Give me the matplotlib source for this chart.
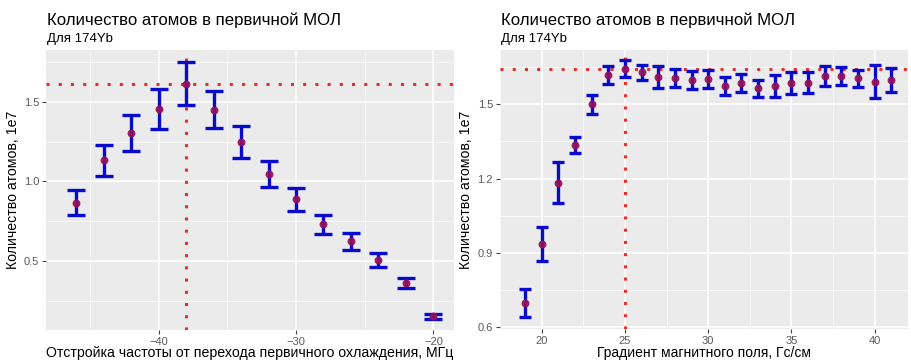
import matplotlib
matplotlib.use("Agg")
import matplotlib.pyplot as plt
from matplotlib.ticker import MultipleLocator

plt.rcParams["font.family"] = ["Liberation Sans", "DejaVu Sans"]

# left panel: detuning scan
detuning = [-46, -44, -42, -40, -38, -36, -34, -32, -30, -28, -26, -24, -22, -20]
atoms_det = [0.866, 1.134, 1.306, 1.457, 1.616, 1.451, 1.247, 1.048, 0.887, 0.730,
             0.623, 0.507, 0.363, 0.151]
err_det = [0.078, 0.097, 0.115, 0.127, 0.133, 0.115, 0.099, 0.083, 0.074, 0.058,
           0.052, 0.043, 0.030, 0.014]
best_det = -38
best_det_level = 1.616

# right panel: magnetic field gradient scan
gradient = list(range(19, 42))
atoms_grad = [0.698, 0.936, 1.184, 1.336, 1.500, 1.618, 1.644, 1.629, 1.611, 1.605,
              1.598, 1.602, 1.574, 1.585, 1.564, 1.575, 1.587, 1.587, 1.614, 1.614,
              1.605, 1.591, 1.598]
err_grad = [0.058, 0.070, 0.082, 0.032, 0.038, 0.036, 0.034, 0.030, 0.044, 0.037,
            0.037, 0.035, 0.037, 0.037, 0.035, 0.045, 0.045, 0.042, 0.042, 0.037,
            0.035, 0.066, 0.050]
best_grad = 25
best_grad_level = 1.641

title = "Количество атомов в первичной МОЛ"
subtitle = "Для 174Yb"
ylabel = "Количество атомов, 1e7"

fig = plt.figure(figsize=(9.11, 3.61), dpi=100)
ax1 = fig.add_axes([46 / 911, 31 / 361, 408 / 911, 280 / 361])
ax2 = fig.add_axes([500 / 911, 32 / 361, 408 / 911, 279 / 361])


def style_axes(ax):
    ax.set_facecolor("#EBEBEB")
    for s in ax.spines.values():
        s.set_visible(False)
    ax.grid(True, which="major", color="white", linewidth=1.1)
    ax.grid(True, which="minor", color="white", linewidth=0.5)
    ax.set_axisbelow(True)
    ax.tick_params(which="major", length=3, width=0.8, color="#444444",
                   labelsize=8, labelcolor="#5A5A5A", pad=2)
    ax.tick_params(which="minor", length=0)


def draw(ax, x, y, e, vx, hy, capsize):
    ax.axhline(hy, color="#E03030", linestyle=(0, (1, 3)), linewidth=2.2, zorder=2)
    ax.axvline(vx, color="#E03030", linestyle=(0, (1, 3)), linewidth=2.2, zorder=2)
    ax.errorbar(x, y, yerr=e, fmt="none", ecolor="#0A0ACD", elinewidth=2.4,
                capsize=capsize, capthick=2.4, zorder=3)
    ax.scatter(x, y, s=22, color="#95105A", zorder=4, alpha=0.9)


style_axes(ax1)
draw(ax1, detuning, atoms_det, err_det, best_det, best_det_level, 6.5)
ax1.set_xlim(-48.2, -18.5)
ax1.set_ylim(0.066, 1.827)
ax1.xaxis.set_major_locator(MultipleLocator(10))
ax1.xaxis.set_minor_locator(MultipleLocator(5))
ax1.yaxis.set_major_locator(MultipleLocator(0.5))
ax1.yaxis.set_minor_locator(MultipleLocator(0.25))
ax1.set_xlabel("Отстройка частоты от перехода первичного охлаждения, МГц",
               fontsize=10.2, color="black", labelpad=-0.5)
ax1.set_ylabel(ylabel, fontsize=10.2, labelpad=3)

style_axes(ax2)
draw(ax2, gradient, atoms_grad, err_grad, best_grad, best_grad_level, 4.5)
ax2.set_xlim(17.5, 42.0)
ax2.set_ylim(0.593, 1.719)
ax2.xaxis.set_major_locator(MultipleLocator(5))
ax2.xaxis.set_minor_locator(MultipleLocator(2.5))
ax2.yaxis.set_major_locator(MultipleLocator(0.3))
ax2.yaxis.set_minor_locator(MultipleLocator(0.15))
ax2.set_xlabel("Градиент магнитного поля, Гс/см", fontsize=10, labelpad=0)
ax2.set_ylabel(ylabel, fontsize=10.2, labelpad=3)

for ax in (ax1, ax2):
    ax.text(0.003, 1.088, title, transform=ax.transAxes, fontsize=12.1,
            ha="left", va="baseline")
    ax.text(0.003, 1.030, subtitle, transform=ax.transAxes, fontsize=9.5,
            ha="left", va="baseline")

fig.savefig("out.png", dpi=100)
